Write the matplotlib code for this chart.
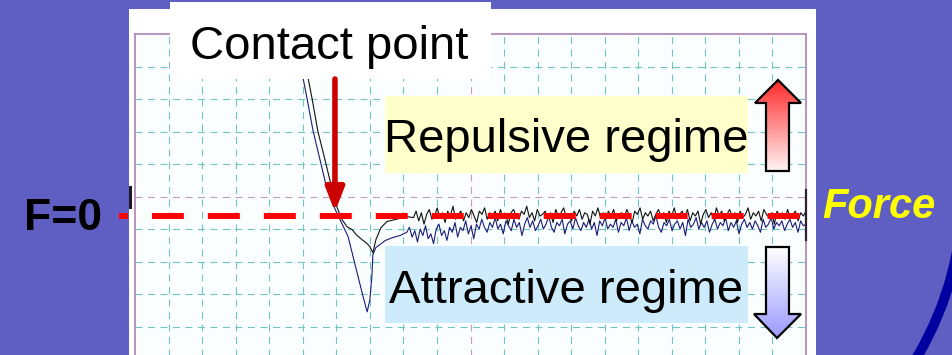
import numpy as np
import matplotlib

matplotlib.use("Agg")
import matplotlib.pyplot as plt
from matplotlib.patches import Rectangle, Polygon, Arc, FancyArrowPatch
from matplotlib.colors import LinearSegmentedColormap

plt.rcParams["font.family"] = ["Liberation Sans", "DejaVu Sans"]
plt.rcParams["lines.scale_dashes"] = False

# --- force curve, in scope grid divisions (x: 0..20, y: -5..5) ---
approach_x = [4.80, 4.89, 5.01, 5.13, 5.31, 5.51, 5.69, 5.90, 6.14, 6.35, 6.50,
              6.65, 6.80, 6.92, 7.00, 7.06, 7.09, 7.18, 7.30, 7.45, 7.66, 7.90]
approach_y = [5.00, 4.23, 3.64, 3.00, 2.01, 1.14, 0.37, -0.25, -0.77, -1.23, -1.85,
              -2.47, -3.09, -3.55, -3.18, -2.47, -1.79, -1.57, -1.48, -1.36, -1.27, -1.20]
# noisy baseline after the snap-off, sampled evenly from x=8.1 to x=20
approach_tail = [
    -1.10, -0.95, -1.25, -1.05, -1.40, -1.00, -1.20, -0.90, -1.30, -1.15,
    -1.45, -1.00, -0.85, -1.20, -1.05, -1.35, -0.95, -1.10, -0.80, -1.25,
    -0.95, -1.05, -0.75, -1.15, -0.90, -1.30, -0.85, -1.00, -0.70, -0.95,
    -1.10, -0.80, -0.95, -0.65, -1.00, -0.85, -1.15, -0.75, -0.90, -1.05,
    -0.70, -0.95, -0.80, -1.20, -0.85, -0.65, -0.95, -0.75, -1.05, -0.90,
    -0.70, -1.00, -0.85, -0.60, -0.95, -1.10, -0.80, -0.90, -0.70, -1.15,
    -0.85, -0.75, -1.00, -0.65, -0.90, -1.05, -0.80, -0.95, -0.70, -1.00,
    -0.80, -1.20, -0.75, -0.90, -0.65, -1.00, -0.85, -0.95, -0.70, -1.10,
    -0.80, -0.90, -0.65, -1.05, -0.75, -0.95, -0.85, -1.15, -0.70, -0.90,
    -1.00, -0.75, -0.85, -0.60, -0.95, -1.10, -0.80, -0.90, -0.70, -1.05,
    -0.85, -0.75, -1.00, -0.80, -1.20, -0.70, -0.95, -0.85, -0.65, -1.00,
    -0.80, -0.95, -0.75, -1.10, -0.85, -0.70, -1.00, -0.80, -0.90, -0.65,
    -1.05, -0.80, -0.95, -0.75, -1.15, -0.85, -0.70, -0.95, -0.80, -1.00,
    -0.75, -0.90, -1.10, -0.70, -0.95, -0.85, -0.65, -1.00, -0.80, -0.90,
    -0.75, -1.05, -0.85, -0.70, -0.95, -0.80, -1.10, -0.75, -0.90, -0.85,
]
retract_x = [4.95, 5.04, 5.16, 5.28, 5.45, 5.66, 5.84, 5.99, 6.17, 6.32, 6.47,
             6.62, 6.77, 6.92, 7.00, 7.09, 7.18, 7.33, 7.51, 7.75, 8.11]
retract_y = [5.00, 4.23, 3.64, 3.00, 2.01, 1.14, 0.37, -0.25, -0.71, -0.93, -1.02,
             -1.20, -1.33, -1.45, -1.54, -1.73, -1.33, -0.96, -0.77, -0.71, -0.62]
# noisy baseline, sampled evenly from x=8.3 to x=20
retract_tail = [
    -0.65, -0.45, -0.75, -0.50, -0.85, -0.55, -0.40, -0.70, -0.60, -0.35,
    -0.65, -0.50, -0.80, -0.45, -0.60, -0.30, -0.70, -0.55, -0.45, -0.75,
    -0.50, -0.65, -0.40, -0.60, -0.80, -0.45, -0.55, -0.35, -0.70, -0.50,
    -0.60, -0.45, -0.75, -0.40, -0.65, -0.55, -0.85, -0.50, -0.40, -0.60,
    -0.70, -0.45, -0.55, -0.30, -0.65, -0.50, -0.75, -0.40, -0.60, -0.55,
    -0.45, -0.70, -0.50, -0.80, -0.40, -0.60, -0.50, -0.35, -0.65, -0.55,
    -0.75, -0.45, -0.60, -0.40, -0.70, -0.50, -0.55, -0.85, -0.45, -0.60,
    -0.35, -0.65, -0.50, -0.70, -0.45, -0.60, -0.40, -0.75, -0.55, -0.50,
    -0.65, -0.40, -0.60, -0.80, -0.45, -0.55, -0.35, -0.70, -0.50, -0.60,
    -0.45, -0.75, -0.55, -0.40, -0.65, -0.50, -0.80, -0.45, -0.60, -0.35,
    -0.70, -0.55, -0.45, -0.65, -0.40, -0.75, -0.50, -0.60, -0.45, -0.85,
    -0.55, -0.40, -0.65, -0.50, -0.70, -0.35, -0.60, -0.45, -0.75, -0.55,
    -0.40, -0.60, -0.50, -0.80, -0.45, -0.65, -0.55, -0.35, -0.70, -0.50,
    -0.60, -0.45, -0.75, -0.40, -0.55, -0.65, -0.50, -0.85, -0.45, -0.60,
    -0.50, -0.70, -0.40, -0.65, -0.55, -0.45, -0.75, -0.50, -0.60, -0.45,
]
force_zero = -0.6
contact_x = 5.96

BG = "#5f5fc3"
GRID = "#70c4c4"
CENTER = "#c49ac0"

W, H = 952, 355
fig = plt.figure(figsize=(W / 100, H / 100), dpi=100)
fig.patch.set_facecolor(BG)

# background layer, pixel coordinates
bg = fig.add_axes([0, 0, 1, 1], zorder=0)
bg.set_xlim(0, W)
bg.set_ylim(H, 0)
bg.axis("off")
bg.add_patch(Arc((633, 189), 660, 660, theta1=0, theta2=60,
                 ec="#0000a0", lw=7.2))
bg.add_patch(Rectangle((129, 9), 687, 360, fc="white", ec="none"))

# the scope plot
ax = fig.add_axes([135 / W, (H - 359) / H, 671 / W, 325 / H], zorder=1)
ax.set_facecolor("#fbfefe")
ax.set_xlim(0, 20)
ax.set_ylim(-5, 5)
ax.set_xticks(range(0, 21))
ax.set_yticks(range(-5, 6))
ax.tick_params(length=0, labelbottom=False, labelleft=False)
for v in range(1, 20):
    ax.axvline(v, color=CENTER if v == 10 else GRID, lw=0.8,
               ls=(0, (5, 4)), zorder=0)
for v in range(-4, 5):
    ax.axhline(v, color=CENTER if v == 0 else GRID, lw=0.8,
               ls=(0, (5, 4)), zorder=0)
for s in ax.spines.values():
    s.set_color("#b48ab8")
    s.set_linewidth(1.3)

ax_tail_x = np.linspace(8.1, 20.0, len(approach_tail))
rt_tail_x = np.linspace(8.3, 20.0, len(retract_tail))
ax.plot(list(approach_x) + list(ax_tail_x), approach_y + approach_tail,
        color="#1c1c78", lw=0.8, zorder=3)
ax.plot(list(retract_x) + list(rt_tail_x), retract_y + retract_tail,
        color="#111111", lw=0.8, zorder=3)

# overlay layer, pixel coordinates
ov = fig.add_axes([0, 0, 1, 1], zorder=2)
ov.patch.set_alpha(0)
ov.axis("off")
ov.set_xlim(0, W)
ov.set_ylim(H, 0)


def to_px(x, y):
    return ov.transData.inverted().transform(ax.transData.transform((x, y)))


zero_px = to_px(0, force_zero)[1]
tip_px = to_px(contact_x, force_zero + 0.13)

# small dark markers at the zero level
ov.plot([130, 130], [187, 207], color="#201828", lw=2.2)
ov.plot([806, 806], [190, 240], color="#302030", lw=1.6)

# F=0 dashed line
ov.plot([119, 800], [zero_px, zero_px], color="#ff0000", lw=4.3,
        ls=(16.6, (23.0, 17.3)), solid_capstyle="butt", dash_capstyle="butt")

# Contact point label and arrow
ov.add_patch(Rectangle((170, 2), 321, 77, fc="white", ec="none"))
ov.text(329.5, 59, "Contact point", fontsize=34, ha="center", va="baseline",
        color="black")
ov.add_patch(FancyArrowPatch((tip_px[0], 79), (tip_px[0], tip_px[1]),
                             arrowstyle="-|>,head_length=14,head_width=5.5",
                             mutation_scale=1, color="#cc0000", lw=4,
                             shrinkA=0, shrinkB=0))

# regime boxes
ov.add_patch(Rectangle((385, 96), 363, 77, fc="#ffffcc", ec="none"))
ov.text(566, 152, "Repulsive regime", fontsize=34, ha="center", va="baseline")
ov.add_patch(Rectangle((385, 246), 363, 77, fc="#cdebfb", ec="none"))
ov.text(566, 303, "Attractive regime", fontsize=34, ha="center", va="baseline")


def gradient_arrow(pts, top_color, bottom_color):
    poly = Polygon(pts, closed=True, fc="none", ec="black", lw=1.6, zorder=5)
    ov.add_patch(poly)
    xs = [p[0] for p in pts]
    ys = [p[1] for p in pts]
    cmap = LinearSegmentedColormap.from_list("g", [top_color, bottom_color])
    grad = np.linspace(0, 1, 256)[:, None]
    im = ov.imshow(grad, cmap=cmap, aspect="auto", origin="upper", zorder=4,
                   extent=(min(xs), max(xs), max(ys), min(ys)))
    im.set_clip_path(poly)


gradient_arrow([(778, 80), (801, 103), (789, 103), (789, 171), (766, 171),
                (766, 103), (755, 103)], "#ff2a2a", "#fff4f4")
gradient_arrow([(766, 247), (789, 247), (789, 314), (801, 314), (777, 338),
                (754, 314), (766, 314)], "#ffffff", "#9a9aff")

ov.text(63.5, 230, "F=0", fontsize=32, fontweight="bold", ha="center",
        va="baseline", color="black")
ov.text(878.5, 218, "Force", fontsize=30, fontweight="bold", fontstyle="italic",
        ha="center", va="baseline", color="#ffff00")

ov.set_xlim(0, W)
ov.set_ylim(H, 0)

fig.savefig("out.png", dpi=100, facecolor=BG)
